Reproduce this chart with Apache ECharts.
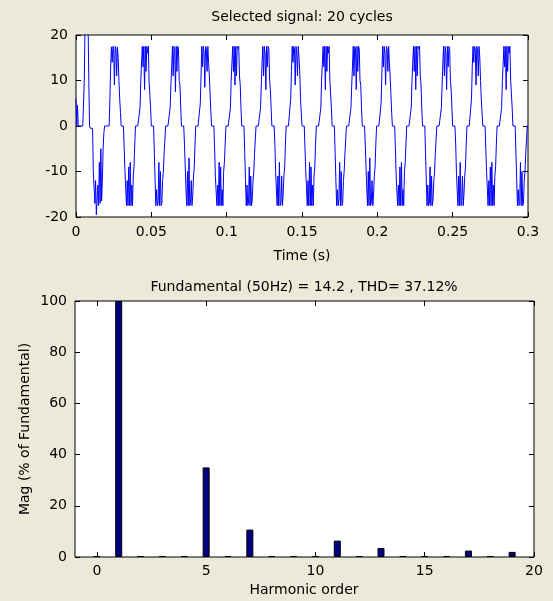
<!DOCTYPE html>
<html>
<head>
<meta charset="utf-8">
<script src="https://cdn.jsdelivr.net/npm/echarts@6/dist/echarts.min.js"></script>
<style>
  html, body { margin: 0; padding: 0; background: #ECE9D8; }
  #chart { width: 553px; height: 601px; }
</style>
</head>
<body>
<div id="chart"></div>
<script>
// Sampled phase current, one value every 0.5 ms from t = 0 to t = 0.3 s
const signalStep = 0.0005;
const signal = [
  6, 0, 4.5, 0, 0, 0, 0, 0, 0, 0,
  0, 10, 22, 25, 24, 25, 23, 10, 0, -0.5,
  -0.5, -0.5, -0.5, -10, -10, -17, -12, -19.5, -19.7, -13,
  -17.5, -8, -17, -5, -16.5, -12, -5, -1.5, 0, 0,
  0,
  0,0,0,0, 6,13,17.4,14,17.5,17,9,17.5,17,11,17.4,15,10,6,3, 0,0,0,0, -5,-10,-10,-17.5,-12,-17.5,-9,-17.5,-8,-17.5,-13,-17.5,-11,-9,-4, 0,0,
  0,0,0,0, 4,10,10,17.5,13,17.5,8,17.5,12,17.5,16,17.5,10,10,4, 0,0,0,0, -6,-12,-17.5,-14,-17.5,-17,-8,-17.5,-10,-17.5,-17,-12,-10,-6,-3, 0,0,
  0,0,0,0, 4,9,13,17.5,11,17.5,17,7.5,17.5,12,17.5,17,10,9,4, 0,0,0,0, -4,-9,-14,-17.5,-10,-17.5,-7,-17.5,-17,-12,-17.5,-15,-11,-9,-4, 0,0,
  0,0,0,0, 5,11,17.5,13,17.5,16,8.5,17.5,17,12,17.5,14,11,7,3, 0,0,0,0, -5,-11,-11,-17.5,-13,-17.5,-8,-17.5,-9,-17.5,-14,-17.5,-10,-8,-4, 0,0,
  0,0,0,0, 4,10,10,17.5,12,17.5,9,17.5,11,17.5,17,17.5,11,9,4, 0,0,0,0, -6,-12,-17.5,-13,-17.5,-17,-9,-17.5,-11,-17.5,-16,-12,-10,-6,-3, 0,0,
  0,0,0,0, 4,9,14,17.5,11,17.5,16,8,17.5,13,17.5,17,10,8,4, 0,0,0,0, -4,-10,-14,-17.5,-11,-17.5,-8,-17.5,-17,-11,-17.5,-15,-11,-9,-4, 0,0,
  0,0,0,0, 6,12,17.5,14,17.5,17,9,17.5,16,11,17.5,15,12,6,3, 0,0,0,0, -5,-10,-10,-17.5,-12,-17.5,-8,-17.5,-9,-17.5,-13,-17.5,-11,-9,-4, 0,0,
  0,0,0,0, 4,10,10,17.5,13,17.5,8,17.5,12,17.5,16,17.5,10,10,4, 0,0,0,0, -6,-12,-17.5,-14,-17.5,-16,-8,-17.5,-10,-17.5,-17,-12,-10,-6,-3, 0,0,
  0,0,0,0, 4,9,13,17.5,11,17.5,17,8,17.5,12,17.5,17,10,9,4, 0,0,0,0, -4,-9,-14,-17.5,-10,-17.5,-7,-17.5,-17,-12,-17.5,-15,-11,-9,-4, 0,0,
  0,0,0,0, 5,11,17.5,13,17.5,16,9,17.5,17,12,17.5,14,11,7,3, 0,0,0,0, -5,-11,-11,-17.5,-13,-17.5,-9,-17.5,-8,-17.5,-14,-17.5,-10,-8,-4, 0,0,
  0,0,0,0, 4,10,10,17.5,12,17.5,8,17.5,11,17.5,17,17.5,11,9,4, 0,0,0,0, -6,-12,-17.5,-13,-17.5,-17,-9,-17.5,-11,-17.5,-16,-12,-10,-6,-3, 0,0,
  0,0,0,0, 4,9,14,17.5,11,17.5,16,8,17.5,13,17.5,17,10,8,4, 0,0,0,0, -4,-10,-14,-17.5,-11,-17.5,-8,-17.5,-17,-11,-17.5,-15,-11,-9,-4, 0,0,
  0,0,0,0, 6,13,17.5,14,17.5,17,9,17.5,17,11,17.5,15,10,6,3, 0,0,0,0, -5,-10,-10,-17.5,-12,-17.5,-9,-17.5,-8,-17.5,-13,-17.5,-11,-9,-4, 0,0,
  0,0,0,0, 4,10,10,17.5,13,17.5,8,17.5,12,17.5,16,17.5,10,10,4, 0,0,0,0, -6,-12,-17.5,-14,-17.5,-17,-8,-17.5,-10,-17.5,-17,-12,-10,-6,-3, 0,0
];

// FFT result: harmonic order and magnitude in % of the fundamental
const harmonicOrder = [0, 1, 2, 3, 4, 5, 6, 7, 8, 9, 10, 11, 12, 13, 14, 15, 16, 17, 18, 19];
const harmonicMag   = [0.4, 100, 0.4, 0.4, 0.4, 35, 0.4, 10.7, 0.4, 0.4, 0.4, 6.4, 0.4, 3.5, 0.4, 0.4, 0.4, 2.5, 0.4, 2.0];
const harmonicTicks = [0, 5, 10, 15, 20];

const topTitle = 'Selected signal: 20 cycles';
const topXName = 'Time (s)';
const bottomTitle = 'Fundamental (50Hz) = 14.2 , THD= 37.12%';
const bottomXName = 'Harmonic order';
const bottomYName = 'Mag (% of Fundamental)';

const FONT = 'DejaVu Sans';
const FS = 14;

const chart = echarts.init(document.getElementById('chart'), null, { renderer: 'canvas' });

// fresh objects for every axis so no option object is shared
const tickStyle = (extra) => Object.assign({ show: true, inside: true, length: 5, lineStyle: { color: '#000', width: 1 } }, extra || {});
const labelStyle = (extra) => Object.assign({ color: '#000', fontFamily: FONT, fontSize: FS }, extra || {});
const noLine = () => ({ show: false, onZero: false });

function makeAxis(common, position, withLabels, tickExtra, labelExtra) {
  return Object.assign({}, common, {
    position: position,
    axisLine: noLine(),
    splitLine: { show: false },
    axisTick: tickStyle(tickExtra),
    axisLabel: withLabels ? labelStyle(labelExtra) : { show: false }
  });
}

const xTimeBase = { gridIndex: 0, type: 'value', min: 0, max: 0.3, interval: 0.05 };
const yTimeBase = { gridIndex: 0, type: 'value', min: -20, max: 20, interval: 10 };
const xHarmBase = { gridIndex: 1, type: 'value', min: -1, max: 20 };
const yHarmBase = { gridIndex: 1, type: 'value', min: 0, max: 100, interval: 20 };

const textStyleFor = (text) => ({
  text: text, font: FS + 'px "' + FONT + '"', fill: '#000',
  textAlign: 'center', textVerticalAlign: 'middle', align: 'center', verticalAlign: 'middle'
});

const option = {
  backgroundColor: '#ECE9D8',
  animation: false,
  textStyle: { fontFamily: FONT, fontSize: FS, color: '#000' },
  grid: [
    { left: 76, top: 35, width: 452, height: 182, show: true, backgroundColor: '#FFFFFF', borderColor: '#000', borderWidth: 1 },
    { left: 75, top: 301, width: 459, height: 256, show: true, backgroundColor: '#FFFFFF', borderColor: '#000', borderWidth: 1 }
  ],
  xAxis: [
    makeAxis(xTimeBase, 'bottom', true, null, { margin: 8 }),
    makeAxis(xTimeBase, 'top', false),
    makeAxis(xHarmBase, 'bottom', true, { customValues: harmonicTicks }, { margin: 7, customValues: harmonicTicks }),
    makeAxis(xHarmBase, 'top', false, { customValues: harmonicTicks })
  ],
  yAxis: [
    makeAxis(yTimeBase, 'left', true, null, { margin: 8 }),
    makeAxis(yTimeBase, 'right', false),
    makeAxis(yHarmBase, 'left', true, null, { margin: 8 }),
    makeAxis(yHarmBase, 'right', false)
  ],
  graphic: [
    { type: 'text', x: 302, y: 17, style: textStyleFor(topTitle) },
    { type: 'text', x: 302, y: 256, style: textStyleFor(topXName) },
    { type: 'text', x: 304, y: 287, style: textStyleFor(bottomTitle) },
    { type: 'text', x: 304, y: 590, style: textStyleFor(bottomXName) },
    { type: 'text', x: 25, y: 429, rotation: Math.PI / 2, style: textStyleFor(bottomYName) }
  ],
  series: [
    {
      type: 'line',
      xAxisIndex: 0, yAxisIndex: 0,
      data: signal.map((v, i) => [i * signalStep, v]),
      showSymbol: false,
      symbol: 'none',
      clip: true,
      silent: true,
      lineStyle: { color: '#0000FF', width: 1 }
    },
    {
      type: 'bar',
      xAxisIndex: 2, yAxisIndex: 2,
      data: harmonicOrder.map((h, i) => [h, harmonicMag[i]]),
      barWidth: 7,
      silent: true,
      itemStyle: { color: '#000080', borderColor: '#000', borderWidth: 1 }
    }
  ]
};

chart.setOption(option);
</script>
</body>
</html>
